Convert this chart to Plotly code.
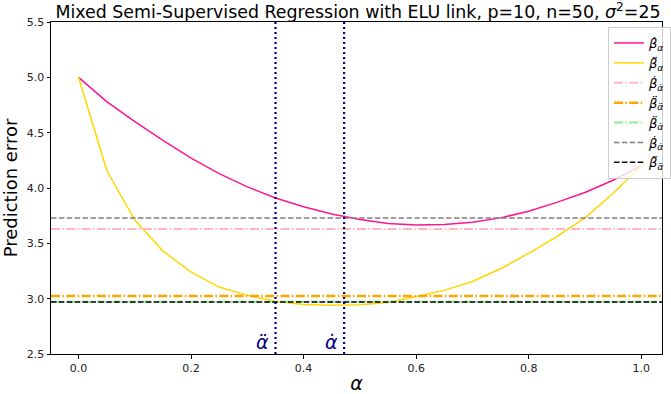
import plotly.graph_objects as go

# Mixing weight grid
alpha = [0.00, 0.05, 0.10, 0.15, 0.20, 0.25, 0.30, 0.35, 0.40, 0.45, 0.50,
         0.55, 0.60, 0.65, 0.70, 0.75, 0.80, 0.85, 0.90, 0.95, 1.00]

# Prediction error of the two estimators along alpha
beta_dot = [5.00, 4.78, 4.60, 4.43, 4.27, 4.13, 4.01, 3.91, 3.83, 3.765, 3.715,
            3.68, 3.665, 3.67, 3.69, 3.73, 3.79, 3.87, 3.96, 4.07, 4.20]
beta_ddot = [5.00, 4.16, 3.71, 3.43, 3.24, 3.105, 3.03, 2.975, 2.948, 2.94, 2.945,
             2.965, 3.02, 3.075, 3.155, 3.27, 3.41, 3.56, 3.73, 3.95, 4.20]

# Errors at the selected alpha values
h_bdot_adot = 3.63
h_bddot_addot = 3.023
h_bddot_adot = 2.972
h_gray = 3.73
h_black = 2.97

# Selected alpha values
alpha_ddot = 0.35
alpha_dot = 0.472

x_range = [-0.049, 1.037]
y_range = [2.5, 5.5]
x_ticks = [0.0, 0.2, 0.4, 0.6, 0.8, 1.0]
y_ticks = [2.5, 3.0, 3.5, 4.0, 4.5, 5.0, 5.5]

FONT = "DejaVu Sans"
DASHDOT = "9px,2.4px,1.5px,2.4px"
DASHED = "5.5px,2.4px"

fig = go.Figure()

fig.add_trace(go.Scatter(x=alpha, y=beta_dot, mode="lines",
                         line=dict(color="#ff1493", width=1.5),
                         name="<i>β̇</i><sub><i>α</i></sub>"))
fig.add_trace(go.Scatter(x=alpha, y=beta_ddot, mode="lines",
                         line=dict(color="#ffd700", width=1.5),
                         name="<i>β̈</i><sub><i>α</i></sub>"))

hlines = [
    (h_bdot_adot, "#ffb6c1", 2.0, DASHDOT, "<i>β̇</i><sub><i>α̇</i></sub>"),
    (h_bddot_addot, "#ffa500", 2.5, DASHDOT, "<i>β̈</i><sub><i>α̈</i></sub>"),
    (h_bddot_adot, "#90ee90", 2.0, DASHDOT, "<i>β̈</i><sub><i>α̇</i></sub>"),
    (h_gray, "#808080", 1.5, DASHED, "<i>β̇</i><sub><i>α̇</i></sub>"),
    (h_black, "#000000", 1.5, DASHED, "<i>β̈</i><sub><i>α̈</i></sub>"),
]
for val, col, w, dash, name in hlines:
    fig.add_trace(go.Scatter(x=x_range, y=[val, val], mode="lines",
                             line=dict(color=col, width=w, dash=dash),
                             name=name))

# Vertical markers at the selected alpha values
for a in (alpha_ddot, alpha_dot):
    fig.add_trace(go.Scatter(x=[a, a], y=y_range, mode="lines",
                             line=dict(color="#000080", width=2.2,
                                       dash="2px,3px"),
                             showlegend=False))

for a, lbl in ((alpha_ddot, "<i>α̈</i>"), (alpha_dot, "<i>α̇</i>")):
    fig.add_annotation(x=a, y=0, xref="x", yref="paper", text=lbl,
                       showarrow=False, xanchor="right", yanchor="bottom",
                       xshift=-4, yshift=-1,
                       font=dict(family=FONT, size=19, color="#000080"))

axis_common = dict(showline=True, linecolor="black", linewidth=1,
                   mirror=True, ticks="outside", ticklen=3.5, tickwidth=1,
                   tickcolor="black", showgrid=False, zeroline=False,
                   tickfont=dict(family=FONT, size=11, color="#222"))

fig.update_xaxes(range=x_range, tickvals=x_ticks, tickformat=".1f",
                 title=dict(text="<i>α</i>", standoff=5,
                            font=dict(family=FONT, size=19, color="black")),
                 **axis_common)
fig.update_yaxes(range=y_range, tickvals=y_ticks, tickformat=".1f",
                 title=dict(text="Prediction error", standoff=6,
                            font=dict(family=FONT, size=18, color="black")),
                 **axis_common)

fig.update_layout(
    width=671, height=394,
    margin=dict(l=51, r=0, t=22, b=40),
    plot_bgcolor="white", paper_bgcolor="white",
    font=dict(family=FONT, color="black"),
    title=dict(text="Mixed Semi-Supervised Regression with ELU link, p=10, n=50, <i>σ</i><sup>2</sup>=25",
               x=358 / 671, xref="container", xanchor="center",
               y=(394 - 12) / 394, yref="container", yanchor="middle",
               font=dict(family=FONT, size=17.4, color="black")),
    legend=dict(x=0.912, xanchor="left", y=0.985, yanchor="top",
                bgcolor="rgba(255,255,255,0.8)", bordercolor="#cccccc",
                borderwidth=1, font=dict(family=FONT, size=13),
                tracegroupgap=0, itemwidth=30),
    showlegend=True,
)

fig.write_html("out.html")
